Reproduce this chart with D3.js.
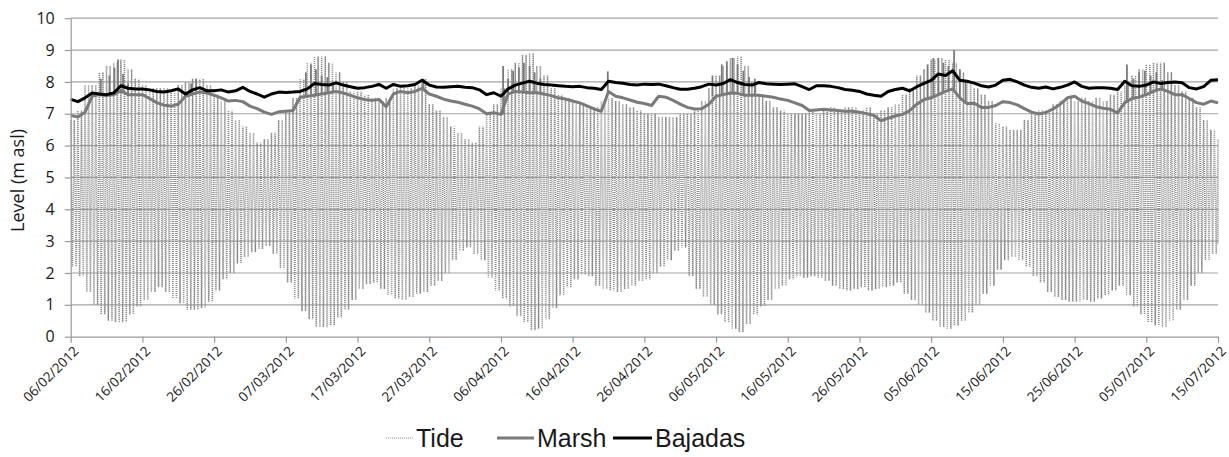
<!DOCTYPE html>
<html>
<head>
<meta charset="utf-8">
<script src="https://cdn.jsdelivr.net/npm/d3@7"></script>
<style>
  html, body { margin: 0; padding: 0; background: #fff; }
  svg { display: block; }
</style>
</head>
<body>
<svg id="chart" width="1229" height="457"></svg>
<script>
// Water levels, 06/02/2012 – 15/07/2012, one entry per day (day 0 = 06/02/2012)
const startDate = "06/02/2012";
const tickLabels = ["06/02/2012","16/02/2012","26/02/2012","07/03/2012","17/03/2012","27/03/2012",
  "06/04/2012","16/04/2012","26/04/2012","06/05/2012","16/05/2012","26/05/2012","05/06/2012",
  "15/06/2012","25/06/2012","05/07/2012","15/07/2012"];
const levelTicks = [0,1,2,3,4,5,6,7,8,9,10];

// Tide: daily high-water and low-water levels (m asl)
const tideHigh = [
  6.8,7.1,7.9,7.9,8.3,8.5,8.6,8.7,8.4,8.1, 7.9,7.8,7.8,7.8,7.7,7.9,8.0,8.1,8.1,7.9,
  7.6,7.4,7.1,6.8,6.6,6.4,6.1,6.2,6.4,6.8, 7.1,7.5,8.1,8.6,8.8,8.8,8.6,8.3,8.0,7.7,
  7.7,7.6,7.5,7.4,7.5,7.8,7.9,7.8,7.9,8.1, 7.3,7.1,6.9,6.6,6.4,6.2,6.1,6.6,7.0,7.3,
  7.8,8.4,8.6,8.85,8.9,8.5,8.2,7.8,7.6,7.5, 7.4,7.3,7.2,7.2,7.4,7.5,7.4,7.3,7.2,7.1,
  7.0,7.0,6.9,6.9,6.9,7.0,7.0,7.1,7.4,7.8, 8.2,8.5,8.75,8.8,8.5,8.0,7.6,7.4,7.2,7.1,
  7.0,7.0,7.0,7.1,7.0,7.1,7.2,7.1,7.2,7.2, 7.1,7.2,7.0,7.1,7.2,7.3,7.6,7.8,8.2,8.4,
  8.7,8.75,8.7,8.6,8.3,8.0,7.8,7.6,7.4,6.7, 6.6,6.5,6.5,6.8,7.0,7.1,7.1,7.3,7.4,7.5,
  7.4,7.5,7.4,7.5,7.4,7.6,7.7,7.9,8.2,8.4, 8.55,8.6,8.6,8.3,7.9,7.7,7.5,7.2,6.8,6.5,
  6.2
];
const tideLow = [
  2.2,1.9,1.4,1.0,0.7,0.5,0.45,0.45,0.7,0.95, 1.15,1.4,1.55,1.4,1.2,1.05,0.85,0.85,0.9,1.1,
  1.45,1.8,2.0,2.3,2.5,2.65,2.75,2.85,2.6,2.15, 1.7,1.2,0.8,0.55,0.3,0.3,0.35,0.6,0.85,1.15,
  1.5,1.65,1.7,1.5,1.3,1.2,1.15,1.25,1.35,1.4, 1.6,1.75,2.0,2.4,2.7,2.8,2.6,2.4,1.85,1.45,
  1.2,0.95,0.65,0.45,0.2,0.25,0.55,0.9,1.3,1.55, 1.8,1.95,1.9,1.6,1.5,1.45,1.4,1.5,1.6,1.75,
  1.8,2.0,2.2,2.4,2.7,2.8,1.9,1.5,1.25,1.0, 0.7,0.45,0.25,0.15,0.4,0.7,0.95,1.15,1.5,1.6,
  1.8,1.9,1.85,1.9,1.85,1.75,1.6,1.5,1.45,1.5, 1.55,1.45,1.5,1.55,1.6,1.7,1.35,1.15,1.0,0.75,
  0.5,0.3,0.25,0.35,0.5,0.75,1.0,1.35,1.6,2.1, 2.4,2.5,2.4,2.2,1.9,1.7,1.4,1.25,1.15,1.1,
  1.1,1.15,1.1,1.2,1.3,1.45,1.6,1.3,0.95,0.7, 0.45,0.35,0.3,0.5,0.85,1.15,1.6,2.0,2.4,2.6,
  2.9
];

// Marsh: daily level (m asl)
const marsh = [
  6.95,6.9,7.05,7.55,7.6,7.57,7.6,7.72,7.6,7.6, 7.6,7.48,7.35,7.27,7.24,7.3,7.55,7.62,7.68,7.65,
  7.58,7.5,7.4,7.42,7.38,7.24,7.16,7.05,6.98,7.06, 7.08,7.1,7.52,7.55,7.58,7.62,7.66,7.7,7.65,7.58,
  7.5,7.45,7.42,7.45,7.22,7.62,7.7,7.66,7.7,7.8, 7.62,7.55,7.46,7.4,7.36,7.3,7.24,7.15,7.0,7.03,
  6.98,7.62,7.7,7.68,7.66,7.66,7.62,7.57,7.5,7.46, 7.4,7.34,7.25,7.15,7.08,7.7,7.55,7.5,7.43,7.36,
  7.32,7.26,7.55,7.52,7.42,7.3,7.2,7.15,7.16,7.3, 7.55,7.6,7.65,7.64,7.58,7.58,7.58,7.55,7.52,7.46,
  7.42,7.34,7.26,7.1,7.12,7.14,7.12,7.1,7.08,7.08, 7.05,7.0,6.95,6.78,6.86,6.93,6.98,7.1,7.3,7.45,
  7.5,7.6,7.7,7.78,7.5,7.32,7.33,7.2,7.2,7.26, 7.38,7.35,7.28,7.16,7.05,6.99,7.04,7.15,7.3,7.5,
  7.55,7.4,7.32,7.22,7.17,7.14,7.03,7.35,7.48,7.52, 7.6,7.7,7.78,7.7,7.6,7.6,7.48,7.35,7.3,7.4,
  7.34
];
// Marsh: short flooding peaks during spring tides [day, level]
const marshPeakDay = [4.2,5.4,6.1,6.6,7.3,8.0, 16.8,17.5, 32.8,33.5,34.2,35.0,35.8,36.6, 49.2,
  60.3,61.0,61.7,62.5,63.2,64.0,64.7,65.5, 74.9,
  89.5,90.8,91.5,92.3,93.0,93.8,94.6,95.4,
  119.5,120.3,121.0,121.7,122.4,123.2,124.0,124.8,
  147.3,148.2,149.0,149.8,150.6,151.4,152.2];
const marshPeakLevel = [8.1,8.2,8.45,8.7,8.25,7.95, 7.95,8.1, 8.3,8.55,8.4,8.2,8.15,8.0, 8.1,
  8.5,8.1,8.35,8.45,8.6,8.5,8.3,8.1, 8.33,
  8.2,8.55,8.65,8.75,8.55,8.35,8.15,8.1,
  8.55,8.75,8.75,8.6,8.5,9.0,8.4,8.0,
  8.55,8.1,8.3,8.35,8.2,8.3,8.05];

// Bajadas: daily level (m asl)
const bajadas = [
  7.45,7.38,7.5,7.65,7.62,7.6,7.65,7.88,7.8,7.78, 7.78,7.75,7.7,7.68,7.72,7.78,7.62,7.75,7.82,7.72,
  7.72,7.75,7.68,7.72,7.83,7.7,7.62,7.52,7.62,7.68, 7.67,7.68,7.7,7.78,7.95,7.92,7.9,7.97,7.9,7.85,
  7.8,7.82,7.86,7.92,7.8,7.92,7.86,7.88,7.92,8.05, 7.9,7.84,7.83,7.85,7.86,7.83,7.82,7.75,7.6,7.66,
  7.55,7.78,7.9,7.96,8.02,7.96,7.92,7.9,7.88,7.86, 7.85,7.86,7.82,7.8,7.76,8.02,7.98,7.96,7.92,7.9,
  7.93,7.92,7.93,7.88,7.82,7.77,7.77,7.8,7.85,7.93, 7.9,7.95,8.07,7.98,7.92,7.9,7.98,7.94,7.93,7.92,
  7.93,7.94,7.85,7.76,7.88,7.88,7.86,7.82,7.76,7.74, 7.7,7.62,7.58,7.55,7.7,7.76,7.8,7.72,7.85,7.95,
  8.05,8.25,8.2,8.35,8.05,8.02,7.96,7.88,7.84,7.9, 8.05,8.08,8.0,7.9,7.83,7.8,7.84,7.78,7.83,7.9,
  8.0,7.86,7.8,7.82,7.82,7.8,7.76,8.02,7.88,7.86, 7.9,8.0,7.95,7.98,8.0,7.97,7.82,7.78,7.85,8.05,
  8.07
];

const svg = d3.select("#chart");
const parseDate = d3.utcParse("%d/%m/%Y");
const t0 = parseDate(startDate);
const dayToDate = d => new Date(t0.getTime() + d * 864e5);
const tickDates = tickLabels.map(parseDate);

const x = d3.scaleUtc()
  .domain([t0, tickDates[tickDates.length - 1]])
  .range([70.7, 1218]);
const y = d3.scaleLinear().domain([0, 10]).range([336.7, 18.2]);

const gridColor = "#a3a3a3";
const axisColor = "#9a9a9a";
const labelFont = "'Open Sans', 'Noto Sans', sans-serif";
const tideColor = "#8a8a8a";

// Horizontal gridlines
svg.append("g")
  .selectAll("line")
  .data(levelTicks.filter(v => v > 0))
  .join("line")
  .attr("x1", x.range()[0]).attr("x2", x.range()[1])
  .attr("y1", d => y(d)).attr("y2", d => y(d))
  .attr("stroke", gridColor).attr("stroke-width", 1.2);

// Tide: two high and two low waters per day
const tidePts = [];
tideHigh.forEach((h, d) => {
  tidePts.push([d, h]);
  if (d < tideHigh.length - 1) {
    tidePts.push([d + 0.25, tideLow[d]]);
    tidePts.push([d + 0.5, h]);
    tidePts.push([d + 0.75, tideLow[d]]);
  } else {
    tidePts.push([d, tideLow[d]]);
  }
});
const line = d3.line().x(p => x(dayToDate(p[0]))).y(p => y(p[1]));

svg.append("path")
  .datum(tidePts)
  .attr("d", line)
  .attr("fill", "none")
  .attr("stroke", tideColor)
  .attr("stroke-width", 1.5)
  .attr("stroke-dasharray", "1,1");

// Marsh
const marshColor = "#7a7a7a";
svg.append("g")
  .selectAll("line")
  .data(marshPeakDay.map((d, i) => [d, marshPeakLevel[i]]))
  .join("line")
  .attr("x1", p => x(dayToDate(p[0]))).attr("x2", p => x(dayToDate(p[0])))
  .attr("y1", p => y(marsh[Math.round(p[0])]))
  .attr("y2", p => y(p[1]))
  .attr("stroke", marshColor).attr("stroke-width", 1.8);

svg.append("path")
  .datum(marsh.map((v, d) => [d, v]))
  .attr("d", line)
  .attr("fill", "none")
  .attr("stroke", marshColor)
  .attr("stroke-width", 3)
  .attr("stroke-linejoin", "round");

// Bajadas
svg.append("path")
  .datum(bajadas.map((v, d) => [d, v]))
  .attr("d", line)
  .attr("fill", "none")
  .attr("stroke", "#000")
  .attr("stroke-width", 3)
  .attr("stroke-linejoin", "round");

// Y axis
const yAxis = svg.append("g")
  .attr("transform", `translate(${x.range()[0]},0)`)
  .call(d3.axisLeft(y).tickValues(levelTicks).tickSize(6).tickPadding(10).tickSizeOuter(0));
yAxis.select(".domain").attr("stroke", axisColor).attr("stroke-width", 1.2);
yAxis.selectAll(".tick line").attr("stroke", axisColor).attr("stroke-width", 1.2);
yAxis.selectAll(".tick text")
  .attr("fill", "#1a1a1a")
  .style("font-family", labelFont)
  .style("font-size", "16px");

// X axis
const xAxis = svg.append("g")
  .attr("transform", `translate(0,${y(0)})`)
  .call(d3.axisBottom(x).tickValues(tickDates).tickSize(6).tickSizeOuter(0)
    .tickFormat((d, i) => tickLabels[i]));
xAxis.select(".domain").attr("stroke", axisColor).attr("stroke-width", 1.2);
xAxis.selectAll(".tick line").attr("stroke", axisColor).attr("stroke-width", 1.2);
xAxis.selectAll(".tick text")
  .attr("fill", "#1a1a1a")
  .style("font-family", labelFont)
  .style("font-size", "13.5px")
  .attr("text-anchor", "end")
  .attr("y", 0).attr("dy", "0.35em")
  .attr("transform", "translate(5,12) rotate(-45)");

// Y axis title
svg.append("text")
  .attr("transform", `translate(24,${(y(0) + y(10)) / 2 + 3}) rotate(-90)`)
  .attr("text-anchor", "middle")
  .style("font-family", labelFont)
  .style("font-size", "18px")
  .attr("fill", "#1a1a1a")
  .text("Level (m asl)");

// Legend
const legendFont = "'Liberation Sans', Arial, sans-serif";
const legend = [
  {name: "Tide", x0: 386, x1: 413, color: tideColor, width: 1.2, dash: "1,1"},
  {name: "Marsh", x0: 497, x1: 534, color: marshColor, width: 3, dash: null},
  {name: "Bajadas", x0: 613, x1: 652, color: "#000", width: 3, dash: null}
];
const lg = svg.append("g").selectAll("g").data(legend).join("g");
lg.append("line")
  .attr("x1", d => d.x0).attr("x2", d => d.x1)
  .attr("y1", 438).attr("y2", 438)
  .attr("stroke", d => d.color).attr("stroke-width", d => d.width)
  .attr("stroke-dasharray", d => d.dash);
lg.append("text")
  .attr("x", d => d.x1 + 3).attr("y", 447)
  .style("font-family", legendFont)
  .style("font-size", "25px")
  .attr("fill", "#1a1a1a")
  .text(d => d.name);
</script>
</body>
</html>
